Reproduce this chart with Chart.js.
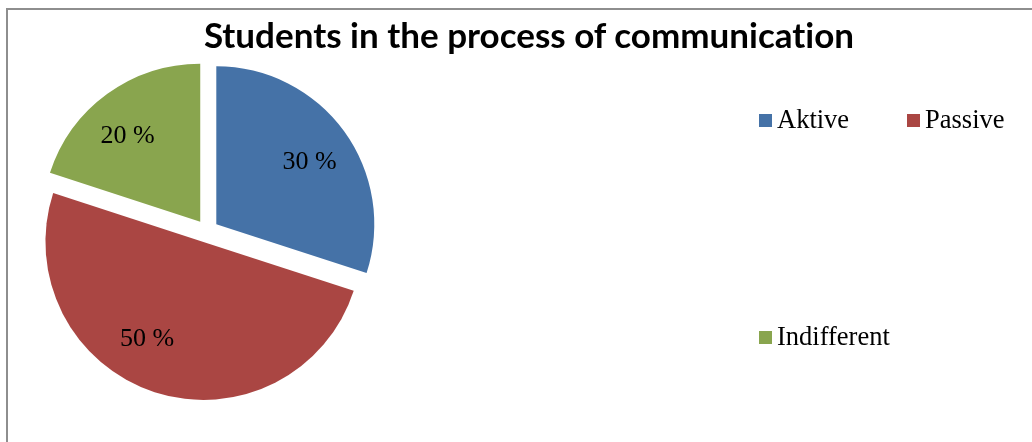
<!DOCTYPE html>
<html>
<head>
<meta charset="utf-8">
<script src="https://cdn.jsdelivr.net/npm/chart.js@4/dist/chart.umd.min.js"></script>
<style>
  html, body { margin: 0; padding: 0; background: #fff; overflow: hidden; }
  #page { position: relative; width: 1032px; height: 442px; overflow: hidden; }
  #frame { position: absolute; left: 6px; top: 8px; width: 1100px; height: 500px; border: 2px solid #8e8e8e; box-sizing: border-box; }
  #title { position: absolute; left: 0; top: 16px; width: 1058px; text-align: center;
           font-family: Lato, "Open Sans", sans-serif; font-weight: 700; font-size: 35px; line-height: 36px; color: #000; white-space: nowrap;
           font-variant-ligatures: none; font-feature-settings: "liga" 0, "clig" 0; }
  #chartWrap { position: absolute; left: 0; top: 0; width: 1032px; height: 442px; }
  .lg-box { position: absolute; width: 13px; height: 13px; }
  .lg-text { position: absolute; font-family: "Liberation Serif", "DejaVu Serif", serif; font-size: 26.5px; line-height: 26px; color: #000; white-space: nowrap; }
</style>
</head>
<body>
<div id="page">
  <div id="frame"></div>
  <div id="chartWrap"><canvas id="c" width="1032" height="442"></canvas></div>
  <div id="title"></div>
  <div id="legend"></div>
</div>
<script>
// ---- data ----
const chartTitle = "Students in the process of communication";
const categories = ["Aktive", "Passive", "Indifferent"];
const percentValues = [30, 50, 20];
const sliceColors = ["#4572A7", "#AA4643", "#89A54E"];

// ---- styling / layout (not data) ----
const EXPLODE_PX = 11.5;
const LABEL_RADIUS_FRACTION = 0.71;
const labelAngleNudgeDeg = [2, 11, -4];
const legendSlots = [{x: 759, y: 114}, {x: 907, y: 114}, {x: 759, y: 331}];

document.getElementById('title').textContent = chartTitle;

// Exploded arc element: every slice pulled outward along its mid-angle
class ExplodedArc extends Chart.ArcElement {
  static id = 'explodedArc';
  draw(ctx) {
    const mid = (this.startAngle + this.endAngle) / 2;
    ctx.save();
    ctx.translate(Math.cos(mid) * EXPLODE_PX, Math.sin(mid) * EXPLODE_PX);
    super.draw(ctx);
    ctx.restore();
  }
}
class ExplodedPieController extends Chart.PieController {
  static id = 'explodedPie';
  static defaults = { dataElementType: 'explodedArc' };
}
Chart.register(ExplodedArc, ExplodedPieController);

const percentLabels = {
  id: 'percentLabels',
  afterDatasetsDraw(chart) {
    const ctx = chart.ctx;
    const meta = chart.getDatasetMeta(0);
    const ds = chart.data.datasets[0];
    ctx.save();
    ctx.font = '26px "Liberation Serif", "DejaVu Serif", serif';
    ctx.fillStyle = '#000';
    ctx.textAlign = 'center';
    ctx.textBaseline = 'middle';
    meta.data.forEach((arc, i) => {
      const mid = (arc.startAngle + arc.endAngle) / 2 + labelAngleNudgeDeg[i] * Math.PI / 180;
      const r = arc.outerRadius * LABEL_RADIUS_FRACTION + EXPLODE_PX;
      ctx.fillText(ds.data[i] + ' %', arc.x + Math.cos(mid) * r, arc.y + Math.sin(mid) * r);
    });
    ctx.restore();
  }
};

new Chart(document.getElementById('c'), {
  type: 'explodedPie',
  data: {
    labels: categories,
    datasets: [{
      data: percentValues,
      backgroundColor: sliceColors,
      borderWidth: 0
    }]
  },
  options: {
    responsive: false,
    animation: false,
    devicePixelRatio: 1,
    layout: { padding: { left: 49, right: 667, top: 73, bottom: 53 } },
    plugins: {
      legend: { display: false },
      title: { display: false },
      tooltip: { enabled: false }
    }
  },
  plugins: [percentLabels]
});

// HTML legend built from the category / colour arrays
const legend = document.getElementById('legend');
categories.forEach((name, i) => {
  const slot = legendSlots[i];
  const box = document.createElement('div');
  box.className = 'lg-box';
  box.style.left = slot.x + 'px';
  box.style.top = slot.y + 'px';
  box.style.background = sliceColors[i];
  const txt = document.createElement('div');
  txt.className = 'lg-text';
  txt.style.left = (slot.x + 18) + 'px';
  txt.style.top = (slot.y - 8) + 'px';
  txt.textContent = name;
  legend.appendChild(box);
  legend.appendChild(txt);
});
</script>
</body>
</html>
